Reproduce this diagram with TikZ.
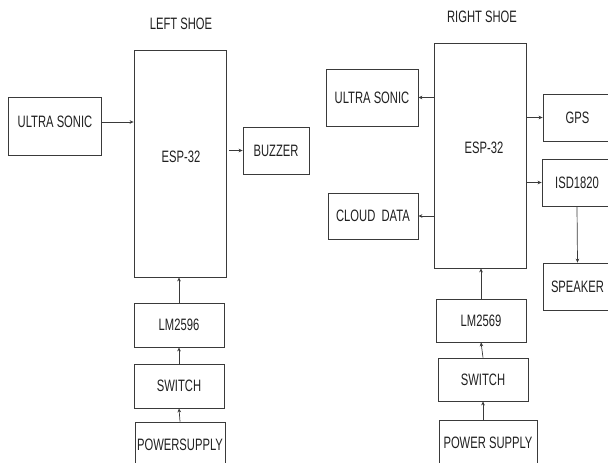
\documentclass[tikz,border=0pt]{standalone}
\usepackage{fontspec}
\setmainfont{Liberation Sans}[FakeStretch=0.68]
\usetikzlibrary{arrows.meta}
\definecolor{lineg}{HTML}{3A3A3A}
\definecolor{textg}{HTML}{202020}
\begin{document}
\begin{tikzpicture}[x=1pt, y=-1pt,
  blk/.style={draw=lineg, line width=0.8pt, rectangle, inner sep=0pt, text=textg, font=\fontsize{16.5}{19}\selectfont},
  lbl/.style={text=textg, font=\fontsize{16.5}{19}\selectfont},
  title/.style={text=textg, font=\fontsize{16.5}{19}\selectfont},
  arr/.style={draw=lineg, line width=0.7pt, -{Stealth[length=4pt, width=3.6pt]}}]
\clip (0,0) rectangle (608,463);
% Left shoe
\node[title] (ltitle) at (181,24) {LEFT SHOE};
\node[blk, minimum width=92pt, minimum height=227pt] (lesp) at (180,163.5) {};
\node[lbl] (lesplbl) at (181,157) {ESP-32};
\node[blk, minimum width=93pt, minimum height=58pt] (lus) at (54.5,126) {};
\node[lbl] (luslbl) at (55,122) {ULTRA SONIC};
\node[blk, minimum width=66pt, minimum height=47pt] (lbuz) at (276,150.5) {BUZZER};
\node[blk, minimum width=90pt, minimum height=44pt] (llm) at (179,325) {LM2596};
\node[blk, minimum width=90pt, minimum height=44pt] (lsw) at (179,386) {SWITCH};
\node[blk, minimum width=90pt, minimum height=46pt] (lps) at (180,445) {POWERSUPPLY};
\draw[arr] (lus.east |- luslbl) -- (luslbl -| lesp.west);
\draw[arr, shorten <=3pt] (lesp.east |- lbuz.west) -- (lbuz.west);
\draw[arr] (llm.north) -- (llm.north |- lesp.south);
\draw[arr] (lsw.north) -- (llm.south);
\draw[arr] (lps.north) -- (lsw.south);
% Right shoe
\node[title] (rtitle) at (482,17) {RIGHT SHOE};
\node[blk, minimum width=92pt, minimum height=225pt] (resp) at (480,155.5) {};
\node[lbl] (resplbl) at (484,148) {ESP-32};
\node[blk, minimum width=92pt, minimum height=57pt] (rus) at (372,97.5) {ULTRA SONIC};
\node[blk, minimum width=90pt, minimum height=46pt] (rcd) at (373,216) {CLOUD\ \ DATA};
\node[blk, minimum width=69pt, minimum height=47pt] (rgps) at (577.5,117.5) {GPS};
\node[blk, minimum width=70pt, minimum height=47pt] (risd) at (577,182.5) {ISD1820};
\node[blk, minimum width=69pt, minimum height=47pt] (rspk) at (577.5,286.5) {SPEAKER};
\node[blk, minimum width=90pt, minimum height=43pt] (rlm) at (481,320.5) {LM2569};
\node[blk, minimum width=90pt, minimum height=43pt] (rsw) at (483,379.5) {SWITCH};
\node[blk, minimum width=98pt, minimum height=46pt] (rps) at (488,443) {POWER SUPPLY};
\draw[arr] (resp.west |- rus.east) -- (rus.east);
\draw[arr] (resp.west |- rcd.east) -- (rcd.east);
\draw[arr] (resp.east |- rgps.west) -- (rgps.west);
\draw[arr] (resp.east |- risd.west) -- (risd.west);
\draw[arr] (risd.south) -- (rspk.north);
\draw[arr] (rlm.north) -- (rlm.north |- resp.south);
\draw[arr] (rsw.north) -- (rlm.south);
\draw[arr] (rsw.south |- rps.north) -- (rsw.south);
\end{tikzpicture}
\end{document}
